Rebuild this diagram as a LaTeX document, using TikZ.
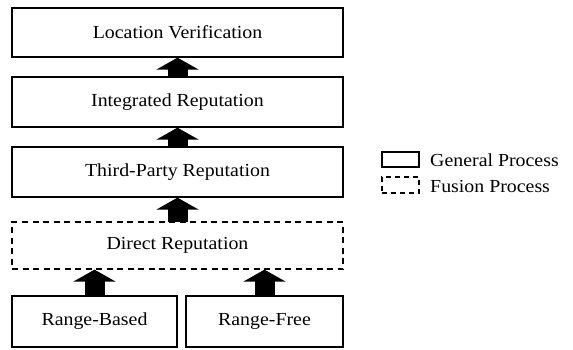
\documentclass[tikz,border=0pt]{standalone}
\usepackage{fontspec}
\setmainfont{Liberation Serif}[FakeStretch=1.08]
\usetikzlibrary{arrows.meta}
\tikzset{
  procbox/.style={draw=black, line width=1.3pt, inner sep=0pt, font=\fontsize{18.4}{21}\selectfont},
  fusionbox/.style={procbox, dash pattern=on 6pt off 4.5pt},
  blockarrow/.style={line width=20pt, -{Triangle[width=42pt,length=12pt]}, shorten <=-0.6pt},
  legtext/.style={inner sep=0pt, anchor=base west, font=\fontsize{18.4}{21}\selectfont}
}
\begin{document}
\begin{tikzpicture}[x=1pt,y=-1pt]
\useasboundingbox (0,0) rectangle (573,349);
\node[procbox, minimum width=331pt, minimum height=49pt] (loc) at (177.5,32.5) {Location Verification};
\node[procbox, minimum width=331pt, minimum height=50pt] (integ) at (177.5,102) {Integrated Reputation};
\node[procbox, minimum width=331pt, minimum height=50pt] (third) at (177.5,172) {Third-Party Reputation};
\node[fusionbox, minimum width=331pt, minimum height=47pt] (direct) at (177.5,245.5) {Direct Reputation};
\node[procbox, minimum width=165pt, minimum height=51pt] (rb) at (94.5,321.5) {Range-Based};
\node[procbox, minimum width=157pt, minimum height=51pt] (rf) at (264.5,321.5) {Range-Free};
\draw[blockarrow] (integ.north) -- (loc.south);
\draw[blockarrow] (third.north) -- (integ.south);
\draw[blockarrow] (direct.north) -- (third.south);
\draw[blockarrow] (rb.north) -- (rb.north |- direct.south);
\draw[blockarrow] (rf.north) -- (rf.north |- direct.south);
\node[procbox, minimum width=37pt, minimum height=15pt] (leg1) at (400.5,159.5) {};
\node[fusionbox, dash pattern=on 5pt off 4pt, minimum width=37pt, minimum height=16pt] (leg2) at (400.5,185) {};
\node[legtext] (leg1t) at (430,166) {General Process};
\node[legtext] (leg2t) at (430,192) {Fusion Process};
\end{tikzpicture}
\end{document}
